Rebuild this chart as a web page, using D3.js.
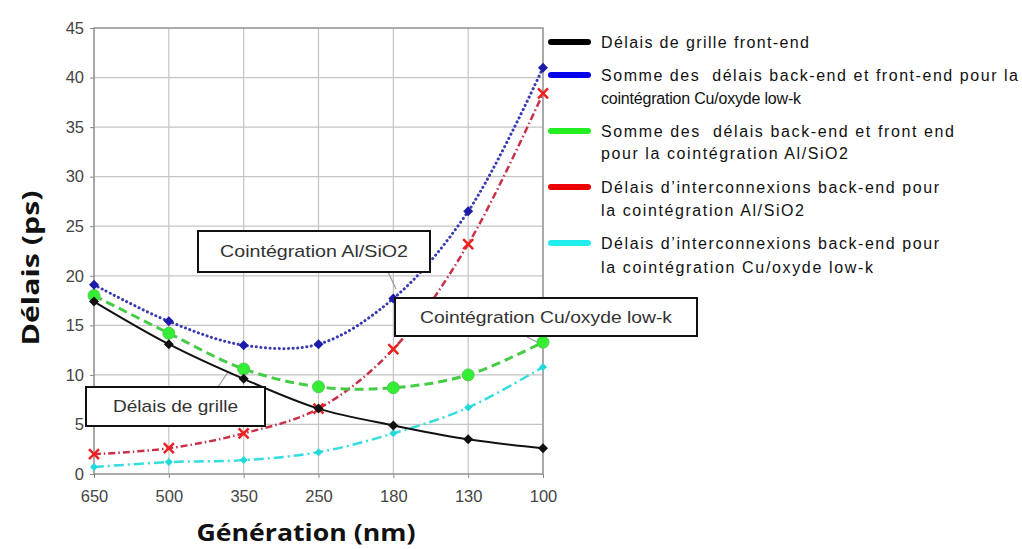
<!DOCTYPE html>
<html><head><meta charset="utf-8">
<script src="https://cdn.jsdelivr.net/npm/d3@7"></script>
<style>body{margin:0;background:#fff;}svg{display:block;font-family:"Liberation Sans",Arial,sans-serif;}.leg{white-space:pre;}</style>
</head><body><svg id="c" width="1022" height="549"></svg>
<script>
const categories = ["650","500","350","250","180","130","100"];
const yTicks = [0,5,10,15,20,25,30,35,40,45];
const frontEnd   = [17.4,13.1,9.6,6.6,4.9,3.5,2.6];
const sumCu      = [19.1,15.4,13.0,13.1,17.7,26.5,41.0];
const sumAl      = [18.0,14.2,10.6,8.8,8.7,10.0,13.3];
const backAl     = [2.0,2.6,4.1,6.6,12.6,23.2,38.4];
const backCu     = [0.7,1.2,1.4,2.2,4.1,6.7,10.8];
const legendLabels = [
  ["Délais de grille front-end"],
  ["Somme des  délais back-end et front-end pour la","cointégration Cu/oxyde low-k"],
  ["Somme des  délais back-end et front end","pour la cointégration Al/SiO2"],
  ["Délais d’interconnexions back-end pour","la cointégration Al/SiO2"],
  ["Délais d’interconnexions back-end pour","la cointégration Cu/oxyde low-k"]
];
const annotations = ["Cointégration Al/SiO2","Cointégration Cu/oxyde low-k","Délais de grille"];

const svg = d3.select("#c");
const x = d3.scalePoint().domain(categories).range([94,543]);
const y = d3.scaleLinear().domain([0,45]).range([474,28]);

// grid
const g = svg.append("g");
g.selectAll(".gx").data(categories).enter().append("line")
  .attr("x1",d=>x(d)).attr("x2",d=>x(d)).attr("y1",y(0)).attr("y2",y(45))
  .attr("stroke","#c4c4c4").attr("stroke-width",1.2);
g.selectAll(".gy").data(yTicks).enter().append("line")
  .attr("x1",x("650")).attr("x2",x("100")).attr("y1",d=>y(d)).attr("y2",d=>y(d))
  .attr("stroke","#c4c4c4").attr("stroke-width",1.2);
g.append("rect").attr("x",x("650")).attr("y",y(45)).attr("width",x("100")-x("650")).attr("height",y(0)-y(45))
  .attr("fill","none").attr("stroke","#999").attr("stroke-width",1.5);

// axes
const ax = svg.append("g").attr("transform",`translate(0,${y(0)})`).call(d3.axisBottom(x).tickSize(4).tickPadding(12));
const ay = svg.append("g").attr("transform",`translate(${x("650")},0)`).call(d3.axisLeft(y).tickValues(yTicks).tickSize(4).tickPadding(6));
[ax,ay].forEach(a=>{
  a.select(".domain").remove();
  a.selectAll(".tick line").attr("stroke","#888");
  a.selectAll("text").attr("font-size",16.5).attr("fill","#444").attr("font-family","Liberation Sans, Arial, sans-serif");
});

// leaders
const lead = svg.append("g").attr("stroke","#999").attr("stroke-width",1.2).attr("fill","none");
lead.append("path").attr("d","M388,272 L396,289");
lead.append("path").attr("d","M527,337 L541,344");
lead.append("path").attr("d","M218,387 L228,372");

// series
const series = [
  {v:frontEnd, color:"#000", lc:"#111", dash:null, w:2, m:"diamond", mc:"#111", ms:5},
  {v:sumCu, color:"#0000ee", lc:"#3a3ab0", dash:"0.1,4.5", w:3, m:"diamond", mc:"#1c1ca8", ms:5},
  {v:sumAl, color:"#22ee22", lc:"#44cc44", dash:"9,5", w:3, m:"circle", mc:"#33ee33", ms:6},
  {v:backAl, color:"#ee0000", lc:"#c83048", dash:"7,3,1.5,3", w:2.5, m:"x", mc:"#ee2020", ms:5},
  {v:backCu, color:"#22eeee", lc:"#33dddd", dash:"10,4,2,4", w:2.5, m:"diamond", mc:"#22d8d8", ms:4}
];
const line = d3.line().x((d,i)=>x(categories[i])).y(d=>y(d)).curve(d3.curveCatmullRom.alpha(0.5));
const drawOrder = [4,3,2,0,1];
drawOrder.forEach(k=>{
  const s = series[k];
  const gg = svg.append("g");
  gg.append("path").datum(s.v).attr("d",line).attr("fill","none").attr("stroke",s.lc)
    .attr("stroke-width",s.w).attr("stroke-linecap",k===1?"round":"butt")
    .attr("stroke-dasharray",s.dash);
  const pts = gg.selectAll(".p").data(s.v).enter().append("g")
    .attr("transform",(d,i)=>`translate(${x(categories[i])},${y(d)})`);
  if(s.m==="circle"){
    pts.append("circle").attr("r",s.ms).attr("fill",s.mc).attr("stroke","#55cc55").attr("stroke-width",1);
  } else if(s.m==="diamond"){
    pts.append("path").attr("d",`M0,${-s.ms}L${s.ms},0L0,${s.ms}L${-s.ms},0Z`).attr("fill",s.mc);
  } else {
    pts.append("path").attr("d",`M${-s.ms},${-s.ms}L${s.ms},${s.ms}M${-s.ms},${s.ms}L${s.ms},${-s.ms}`)
      .attr("stroke",s.mc).attr("stroke-width",2.5);
  }
});

// annotation boxes
const boxes = [
  {t:annotations[0], x:198, y:231, w:232, h:41, tw:188},
  {t:annotations[1], x:395, y:298, w:302, h:38, tw:252},
  {t:annotations[2], x:86, y:387, w:179, h:39, tw:125}
];
boxes.forEach(b=>{
  svg.append("rect").attr("x",b.x).attr("y",b.y).attr("width",b.w).attr("height",b.h)
    .attr("fill","#fff").attr("stroke","#111").attr("stroke-width",2);
  svg.append("text").attr("x",b.x+b.w/2).attr("y",b.y+b.h/2).attr("text-anchor","middle")
    .attr("dominant-baseline","central").attr("font-size",17).attr("fill","#333")
    .attr("textLength",b.tw).attr("lengthAdjust","spacingAndGlyphs").text(b.t);
});

// legend
const legY = [[42],[75,98],[131,153],[187,210],[243,267]];
const widths = [[208],[417,200],[353,247],[338,203],[338,272]];
series.forEach((s,i)=>{
  svg.append("line").attr("x1",551).attr("x2",588).attr("y1",legY[i][0]).attr("y2",legY[i][0])
    .attr("stroke",s.color).attr("stroke-width",6).attr("stroke-linecap","round");
  legendLabels[i].forEach((t,j)=>{
    svg.append("text").attr("class","leg").attr("x",601).attr("y",legY[i][j]).attr("dominant-baseline","central")
      .attr("font-size",16).attr("fill","#111")
      .attr("textLength",widths[i][j]).attr("lengthAdjust","spacing").text(t);
  });
});

// axis titles
svg.append("text").attr("transform","translate(30,268) rotate(-90)").attr("text-anchor","middle")
  .attr("dominant-baseline","central").attr("font-weight","bold").attr("font-size",23).attr("fill","#111")
  .attr("textLength",155).attr("lengthAdjust","spacingAndGlyphs")
  .attr("font-family","Open Sans, Liberation Sans, sans-serif").text("Délais (ps)");
svg.append("text").attr("x",306).attr("y",532).attr("text-anchor","middle")
  .attr("dominant-baseline","central").attr("font-weight","bold").attr("font-size",23).attr("fill","#111")
  .attr("textLength",219).attr("lengthAdjust","spacingAndGlyphs")
  .attr("font-family","Open Sans, Liberation Sans, sans-serif").text("Génération (nm)");
</script></body></html>
